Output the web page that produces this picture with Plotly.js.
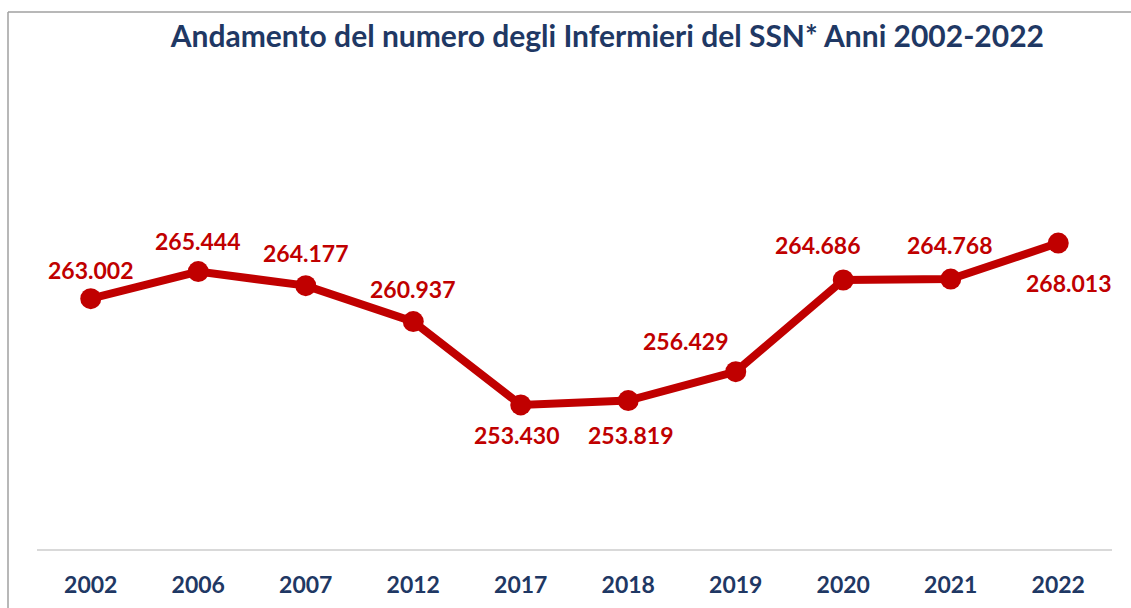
<!DOCTYPE html>
<html><head><meta charset="utf-8">
<script src="https://cdn.plot.ly/plotly-3.0.1.min.js"></script>
<style>html,body{margin:0;padding:0;background:#fff}#c{width:1131px;height:608px}</style>
</head><body><div id="c"></div>
<script>
const years = ['2002','2006','2007','2012','2017','2018','2019','2020','2021','2022'];
const nurses = [263002,265444,264177,260937,253430,253819,256429,264686,264768,268013];
const labelDX = [0,0,0,0,-4,3,-50,-25,-1,11];
const labelDY = [29,31,33,33,-30,-34,31,35,34,-40];

const RED = '#C00000', NAVY = '#1F3864';
const FONT = 'Lato, "Open Sans", sans-serif';
const fmt = v => String(v).replace(/\B(?=(\d{3})+(?!\d))/g, '.');
const idx = years.map((_, i) => i);

const trace = {
  x: idx, y: nurses, type: 'scatter', mode: 'lines+markers',
  line: {color: RED, width: 8},
  marker: {color: RED, size: 21},
  hoverinfo: 'skip'
};

const annotations = idx.map(i => ({
  x: i, y: nurses[i], xref: 'x', yref: 'y', text: '<b>' + fmt(nurses[i]) + '</b>',
  showarrow: false, xshift: labelDX[i], yshift: labelDY[i],
  font: {family: FONT, size: 23, color: RED}
}));

const layout = {
  width: 1131, height: 608,
  margin: {l: 37, r: 19, t: 110, b: 59},
  paper_bgcolor: '#fff', plot_bgcolor: '#fff',
  showlegend: false,
  title: {text: '<b>Andamento del numero degli Infermieri del SSN* Anni 2002-2022</b>',
    font: {family: FONT, size: 30, color: NAVY},
    x: 0.537, xanchor: 'center', y: 0.94, yanchor: 'middle', xref: 'container', yref: 'container'},
  xaxis: {type: 'linear', range: [-0.5, 9.5], showgrid: false, zeroline: false, showline: true,
    linecolor: '#D9D9D9', linewidth: 2, ticks: '', ticklabelstandoff: 14,
    tickmode: 'array', tickvals: idx, ticktext: years.map(y => '<b>' + y + '</b>'),
    tickfont: {family: FONT, size: 23, color: NAVY}},
  yaxis: {range: [240450, 280000], visible: false, showgrid: false, zeroline: false},
  annotations: annotations,
  shapes: [
    {type: 'line', xref: 'paper', yref: 'paper', x0: (8-37)/1075, x1: 1.2, y0: (549-12)/439, y1: (549-12)/439,
      line: {color: '#A0A0A0', width: 1.5}},
    {type: 'line', xref: 'paper', yref: 'paper', x0: (8-37)/1075, x1: (8-37)/1075, y0: (549-12)/439, y1: -0.3,
      line: {color: '#A0A0A0', width: 1.5}}
  ]
};

Plotly.newPlot('c', [trace], layout, {displayModeBar: false, staticPlot: true});
</script></body></html>
